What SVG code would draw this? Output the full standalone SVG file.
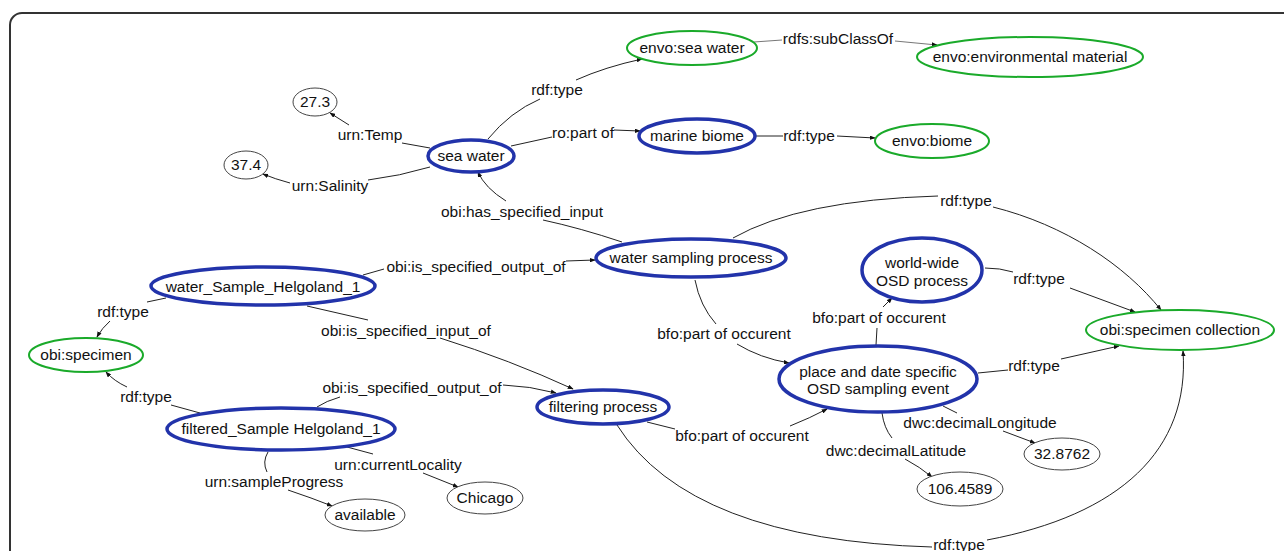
<svg xmlns="http://www.w3.org/2000/svg" width="1284" height="551" viewBox="0 0 1284 551">
<style>
text{font-family:"Liberation Sans",Arial,sans-serif;font-size:15.5px;fill:#111}
.n{text-anchor:middle}
.l{text-anchor:middle}
.b{fill:#fff;stroke:#2233aa;stroke-width:3.5}
.g{fill:#fff;stroke:#1aaa2a;stroke-width:2}
.k{fill:#fff;stroke:#444;stroke-width:1}
.e{fill:none;stroke:#222;stroke-width:1}
.a{fill:none;stroke:#222;stroke-width:1;marker-end:url(#ah)}
.lt{stroke:#777}
</style>
<defs>
<marker id="ah" viewBox="0 0 8 6" refX="7" refY="3" markerWidth="6" markerHeight="4.5" orient="auto" markerUnits="userSpaceOnUse">
<path d="M0,0 L8,3 L0,6 z" fill="#111"/>
</marker>
</defs>
<rect x="10" y="13" width="1320" height="600" rx="12" fill="#fff" stroke="#333" stroke-width="2"/>
<g id="connectors">
<path class="e" d="M488,139 Q510,112 540,99"/>
<path class="a" d="M576,80 Q605,67 642,59"/>
<text class="l" x="557" y="95">rdf:type</text>
<path class="e lt" d="M754,42 L782,40"/>
<path class="a lt" d="M895,41 L937,45"/>
<text class="l" x="838" y="44">rdfs:subClassOf</text>
<path class="e" d="M511,146 L552,137"/>
<path class="a" d="M614,130 L640,131"/>
<text class="l" x="583" y="138">ro:part of</text>
<path class="e" d="M756,136 L783,136"/>
<path class="a" d="M837,136 L875,138"/>
<text class="l" x="809" y="141">rdf:type</text>
<path class="e" d="M430,148 L402,143"/>
<path class="a" d="M349,125 L330,113"/>
<text class="l" x="370" y="140">urn:Temp</text>
<path class="e" d="M430,167 Q400,176 368,180"/>
<path class="a" d="M290,183 Q275,179 263,174"/>
<text class="l" x="330" y="191">urn:Salinity</text>
<path class="e" d="M622,242 Q580,228 543,220"/>
<path class="a" d="M506,201 Q485,188 478,172"/>
<text class="l" x="522" y="217">obi:has_specified_input</text>
<path class="e" d="M363,275 L384,269"/>
<path class="a" d="M566,261 L595,260"/>
<text class="l" x="476" y="272">obi:is_specified_output_of</text>
<path class="e" d="M166,298 L147,302"/>
<path class="a" d="M110,321 Q102,328 97,337"/>
<text class="l" x="123" y="317">rdf:type</text>
<path class="e" d="M307,306 L368,320"/>
<path class="a" d="M440,338 Q510,360 573,389"/>
<text class="l" x="406" y="336">obi:is_specified_input_of</text>
<path class="e" d="M317,407 Q326,401 340,397"/>
<path class="a" d="M503,385 Q530,386 556,393"/>
<text class="l" x="412" y="393">obi:is_specified_output_of</text>
<path class="e" d="M200,413 L171,405"/>
<path class="a" d="M127,387 Q114,381 106,372"/>
<text class="l" x="146" y="402">rdf:type</text>
<path class="e" d="M268,452 Q262,462 267,472"/>
<path class="a" d="M288,490 Q312,498 332,506"/>
<text class="l" x="274" y="487">urn:sampleProgress</text>
<path class="e" d="M347,447 L373,454"/>
<path class="a" d="M423,473 L458,487"/>
<text class="l" x="398" y="470">urn:currentLocality</text>
<path class="e" d="M695,280 Q700,306 716,324"/>
<path class="a" d="M737,344 Q760,358 789,363"/>
<text class="l" x="724" y="339">bfo:part of occurent</text>
<path class="e" d="M647,422 L675,429"/>
<path class="a" d="M790,426 Q810,418 827,409"/>
<text class="l" x="742" y="441">bfo:part of occurent</text>
<path class="e" d="M876,345 L877,328"/>
<path class="a" d="M883,307 L892,298"/>
<text class="l" x="879" y="323">bfo:part of occurent</text>
<path class="e" d="M985,268 Q1000,268 1013,272"/>
<path class="a" d="M1070,288 L1135,312"/>
<text class="l" x="1039" y="284">rdf:type</text>
<path class="e" d="M733,238 Q800,200 938,196"/>
<path class="a" d="M993,207 C1065,225 1125,265 1161,310"/>
<text class="l" x="966" y="206">rdf:type</text>
<path class="e" d="M978,373 L1008,370"/>
<path class="a" d="M1061,359 L1119,346"/>
<text class="l" x="1034" y="371">rdf:type</text>
<path class="e" d="M943,406 L957,413"/>
<path class="a" d="M1003,431 L1035,443"/>
<text class="l" x="980" y="428">dwc:decimalLongitude</text>
<path class="e" d="M882,413 Q884,428 892,438"/>
<path class="a" d="M905,459 Q920,467 932,477"/>
<text class="l" x="896" y="456">dwc:decimalLatitude</text>
<path class="e" d="M617,425 Q690,540 932,547"/>
<path class="a" d="M987,540 C1120,515 1190,450 1183,351"/>
<text class="l" x="959" y="550">rdf:type</text>
</g>
<g id="n-envo-sea-water"><ellipse class="g" cx="692" cy="48" rx="65" ry="17"/><text class="n" x="692" y="53">envo:sea water</text></g>
<g id="n-envo-env-material"><ellipse class="g" cx="1030" cy="57" rx="113" ry="20"/><text class="n" x="1030" y="62">envo:environmental material</text></g>
<g id="n-envo-biome"><ellipse class="g" cx="932" cy="141" rx="57" ry="17"/><text class="n" x="932" y="146">envo:biome</text></g>
<g id="n-marine-biome"><ellipse class="b" cx="697" cy="136" rx="58" ry="17"/><text class="n" x="697" y="141">marine biome</text></g>
<g id="n-sea-water"><ellipse class="b" cx="471" cy="156" rx="43" ry="16"/><text class="n" x="471" y="161">sea water</text></g>
<g id="n-27-3"><ellipse class="k" cx="315" cy="102" rx="22" ry="14"/><text class="n" x="315" y="107">27.3</text></g>
<g id="n-37-4"><ellipse class="k" cx="246" cy="165" rx="22" ry="14"/><text class="n" x="246" y="170">37.4</text></g>
<g id="n-water-sampling"><ellipse class="b" cx="691" cy="258" rx="95" ry="19"/><text class="n" x="691" y="263">water sampling process</text></g>
<g id="n-water-sample"><ellipse class="b" cx="263" cy="286" rx="112" ry="19"/><text class="n" x="263" y="292">water_Sample_Helgoland_1</text></g>
<g id="n-obi-specimen"><ellipse class="g" cx="86" cy="355" rx="57" ry="17"/><text class="n" x="86" y="360">obi:specimen</text></g>
<g id="n-filtered-sample"><ellipse class="b" cx="281" cy="429" rx="114" ry="21"/><text class="n" x="281" y="434">filtered_Sample Helgoland_1</text></g>
<g id="n-available"><ellipse class="k" cx="365" cy="515" rx="40" ry="16"/><text class="n" x="365" y="520">available</text></g>
<g id="n-chicago"><ellipse class="k" cx="485" cy="498" rx="38" ry="16"/><text class="n" x="485" y="503">Chicago</text></g>
<g id="n-filtering"><ellipse class="b" cx="603" cy="407" rx="66" ry="17"/><text class="n" x="603" y="412">filtering process</text></g>
<g id="n-event"><ellipse class="b" cx="878" cy="379" rx="99" ry="33"/><text class="n" x="878" y="377">place and date specific</text><text class="n" x="878" y="394">OSD sampling event</text></g>
<g id="n-world-wide"><ellipse class="b" cx="922" cy="270" rx="60" ry="32"/><text class="n" x="922" y="268">world-wide</text><text class="n" x="922" y="286">OSD process</text></g>
<g id="n-specimen-collection"><ellipse class="g" cx="1180" cy="330" rx="94" ry="20"/><text class="n" x="1180" y="335">obi:specimen collection</text></g>
<g id="n-32-8762"><ellipse class="k" cx="1062" cy="454" rx="38" ry="16"/><text class="n" x="1062" y="459">32.8762</text></g>
<g id="n-106-4589"><ellipse class="k" cx="960" cy="489" rx="43" ry="17"/><text class="n" x="960" y="494">106.4589</text></g>
</svg>
